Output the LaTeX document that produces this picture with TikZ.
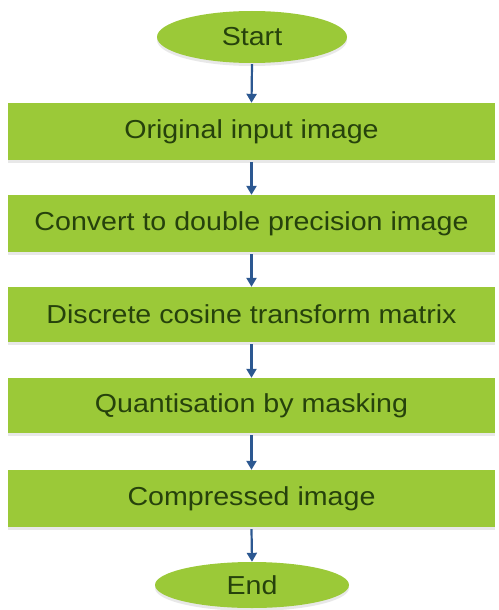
\documentclass[tikz,border=0pt]{standalone}
\usepackage{fontspec}
\setmainfont{Liberation Sans}
\usetikzlibrary{shapes.geometric,arrows.meta,shadows}
\definecolor{boxgreen}{RGB}{155,201,56}
\definecolor{txtgreen}{RGB}{38,66,12}
\definecolor{arrblue}{RGB}{44,88,145}
\tikzset{
  x=1pt,y=1pt,
  txt/.style={text=txtgreen,font=\fontsize{26}{29}\selectfont},
  stepbox/.style={rectangle,fill=boxgreen,minimum width=487pt,minimum height=57pt,inner sep=0pt,txt,
     drop shadow={shadow xshift=0pt,shadow yshift=-3pt,opacity=0.15,fill=black!60}},
  term/.style={ellipse,fill=boxgreen,inner sep=0pt,txt,
     drop shadow={shadow xshift=0pt,shadow yshift=-3pt,opacity=0.15,fill=black!60}},
  conn/.style={draw=arrblue,line width=2.2pt,-{Triangle[length=9pt,width=10pt]}},
}
\begin{document}
\begin{tikzpicture}
\useasboundingbox (0,0) rectangle (498,-610);
\node[term,minimum width=190pt,minimum height=52pt] (start) at (252,-37) {\scalebox{1.1}[1]{Start}};
\node[stepbox] (b1) at (251.5,-131.5) {\scalebox{1.1}[1]{Original input image}};
\node[stepbox] (b2) at (251.5,-223.5) {\scalebox{1.1}[1]{Convert to double precision image}};
\node[stepbox,minimum height=55pt] (b3) at (251.5,-314.5) {\scalebox{1.1}[1]{Discrete cosine transform matrix}};
\node[stepbox,minimum height=55pt] (b4) at (251.5,-405.5) {\scalebox{1.1}[1]{Quantisation by masking}};
\node[stepbox] (b5) at (251.5,-498.5) {\scalebox{1.1}[1]{Compressed image}};
\node[term,minimum width=194pt,minimum height=46pt] (end) at (252,-585) {\scalebox{1.1}[1]{End}};
\draw[conn] (start.south) ++(0,-1) -- (b1.north);
\draw[conn] (b1.south) ++(0,-2) -- (b2.north);
\draw[conn] (b2.south) ++(0,-2) -- (b3.north);
\draw[conn] (b3.south) ++(0,-2) -- (b4.north);
\draw[conn] (b4.south) ++(0,-2) -- (b5.north);
\draw[conn] (b5.south) ++(0,-2) -- (end.north);
\end{tikzpicture}
\end{document}
